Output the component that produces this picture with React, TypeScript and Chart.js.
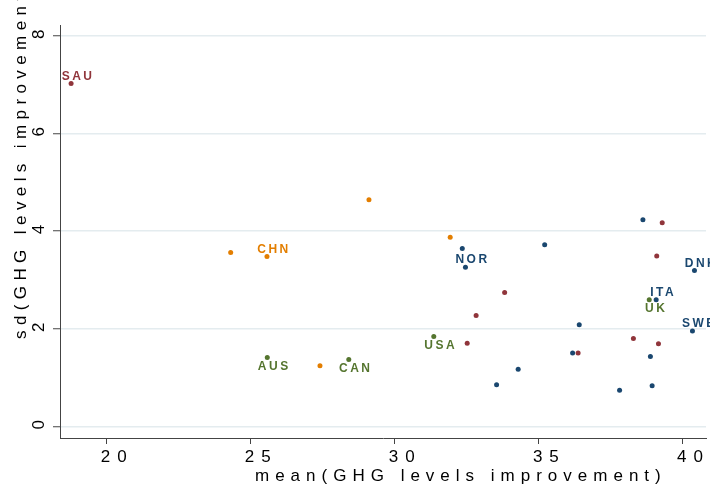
import React, { useEffect, useRef } from 'react';
import { Chart, registerables } from 'chart.js';

Chart.register(...registerables);

// ---- data ----
const maroonX = [18.78, 32.84, 32.53, 33.83, 39.3, 39.11, 38.3, 39.17, 36.38];
const maroonY = [7.02, 2.27, 1.7, 2.74, 4.17, 3.49, 1.8, 1.69, 1.5];
const maroonLabels = ['SAU', '', '', '', '', '', '', '', ''];

const navyX = [32.36, 32.47, 35.22, 38.63, 40.42, 39.09, 40.35, 36.42, 36.19, 38.89, 34.3, 33.55, 37.82, 38.95];
const navyY = [3.64, 3.26, 3.72, 4.23, 3.19, 2.59, 1.95, 2.08, 1.5, 1.43, 1.17, 0.85, 0.74, 0.83];
const navyLabels = ['', 'NOR', '', '', 'DNK', 'ITA', 'SWE', '', '', '', '', '', '', ''];

const orangeX = [24.32, 25.58, 29.12, 31.94, 27.42];
const orangeY = [3.56, 3.48, 4.64, 3.87, 1.24];
const orangeLabels = ['', 'CHN', '', '', ''];

const greenX = [25.59, 28.42, 31.37, 38.85];
const greenY = [1.41, 1.37, 1.84, 2.59];
const greenLabels = ['AUS', 'CAN', 'USA', 'UK'];

const xRange = [18.395, 40.82];
const yRange = [-0.24, 8.22];
const xStep = 5;
const yStep = 2;

const xTitle = 'mean(GHG levels improvement)';
const yTitle = 'sd(GHG levels improvement)';

const FONT = '"Liberation Sans", Arial, Helvetica, sans-serif';

const toPoints = (xs: number[], ys: number[]) => xs.map((x, i) => ({ x, y: ys[i] }));

const spacingPlugin = {
  id: 'tickSpacing',
  beforeLayout(chart: any) {
    chart.ctx.letterSpacing = '7px';
  },
  beforeDraw(chart: any) {
    chart.ctx.letterSpacing = '7px';
  },
};

const labelPlugin = {
  id: 'markerLabels',
  afterDatasetsDraw(chart: any) {
    const ctx = chart.ctx;
    ctx.save();
    ctx.font = `bold 12px ${FONT}`;
    ctx.letterSpacing = '2.5px';
    ctx.textAlign = 'center';
    ctx.textBaseline = 'middle';
    chart.data.datasets.forEach((ds: any, i: number) => {
      const meta = chart.getDatasetMeta(i);
      meta.data.forEach((pt: any, j: number) => {
        const t = ds.markerLabels[j];
        if (!t) return;
        ctx.fillStyle = ds.backgroundColor;
        ctx.fillText(t, pt.x + 7, pt.y + (ds.labelBelow ? 9 : -7));
      });
    });
    ctx.restore();
  },
};

const titlePlugin = {
  id: 'axisTitles',
  afterDraw(chart: any) {
    const ctx = chart.ctx;
    const a = chart.chartArea;
    ctx.save();
    ctx.font = `17px ${FONT}`;
    ctx.letterSpacing = '6px';
    ctx.fillStyle = '#000';
    ctx.textAlign = 'left';
    ctx.textBaseline = 'alphabetic';
    ctx.fillText(xTitle, a.left + 195, a.bottom + 43);
    ctx.letterSpacing = '5.4px';
    ctx.translate(a.left - 34, a.bottom - 99);
    ctx.rotate(-Math.PI / 2);
    ctx.fillText(yTitle, 0, 0);
    ctx.restore();
  },
};

export default function App() {
  const ref = useRef<HTMLCanvasElement>(null);

  useEffect(() => {
    document.body.style.margin = '0';
    const mk = (label: string, xs: number[], ys: number[], labels: string[], color: string, below: boolean) => ({
      label,
      data: toPoints(xs, ys),
      backgroundColor: color,
      borderColor: color,
      borderWidth: 0,
      pointRadius: 2.5,
      markerLabels: labels,
      labelBelow: below,
    });
    const chart = new Chart(ref.current as HTMLCanvasElement, {
      type: 'scatter',
      data: {
        datasets: [
          mk('maroon', maroonX, maroonY, maroonLabels, '#90353b', false),
          mk('orange', orangeX, orangeY, orangeLabels, '#e37e00', false),
          mk('navy', navyX, navyY, navyLabels, '#1a476f', false),
          mk('green', greenX, greenY, greenLabels, '#55752f', true),
        ] as any,
      },
      options: {
        responsive: false,
        animation: false,
        layout: { padding: { left: 0, top: 25, right: 3, bottom: 0 } },
        plugins: { legend: { display: false }, tooltip: { enabled: false } },
        scales: {
          x: {
            type: 'linear',
            min: xRange[0],
            max: xRange[1],
            afterFit: (s: any) => {
              s.height = 50;
            },
            ticks: {
              stepSize: xStep,
              includeBounds: false,
              color: '#000',
              font: { family: FONT, size: 17 },
              padding: 3,
              labelOffset: 11,
              maxRotation: 0,
            },
            grid: { drawOnChartArea: false, drawTicks: true, tickLength: 6, tickColor: '#444', tickWidth: 1 },
            border: { color: '#444', width: 1 },
          },
          y: {
            type: 'linear',
            min: yRange[0],
            max: yRange[1],
            afterFit: (s: any) => {
              s.width = 60;
            },
            ticks: {
              stepSize: yStep,
              includeBounds: false,
              color: '#000',
              font: { family: FONT, size: 17 },
              padding: 5,
              minRotation: 90,
              maxRotation: 90,
              crossAlign: 'center',
              labelOffset: -5,
            },
            grid: { color: '#e4ecef', lineWidth: 1.5, tickLength: 7, tickColor: '#444', tickWidth: 1 },
            border: { color: '#444', width: 1 },
          },
        },
      } as any,
      plugins: [spacingPlugin, labelPlugin, titlePlugin],
    });
    return () => chart.destroy();
  }, []);

  return (
    <div style={{ position: 'absolute', left: 0, top: 0, width: 710, height: 488, background: '#fff' }}>
      <canvas ref={ref} width={710} height={488} style={{ display: 'block' }} />
    </div>
  );
}
